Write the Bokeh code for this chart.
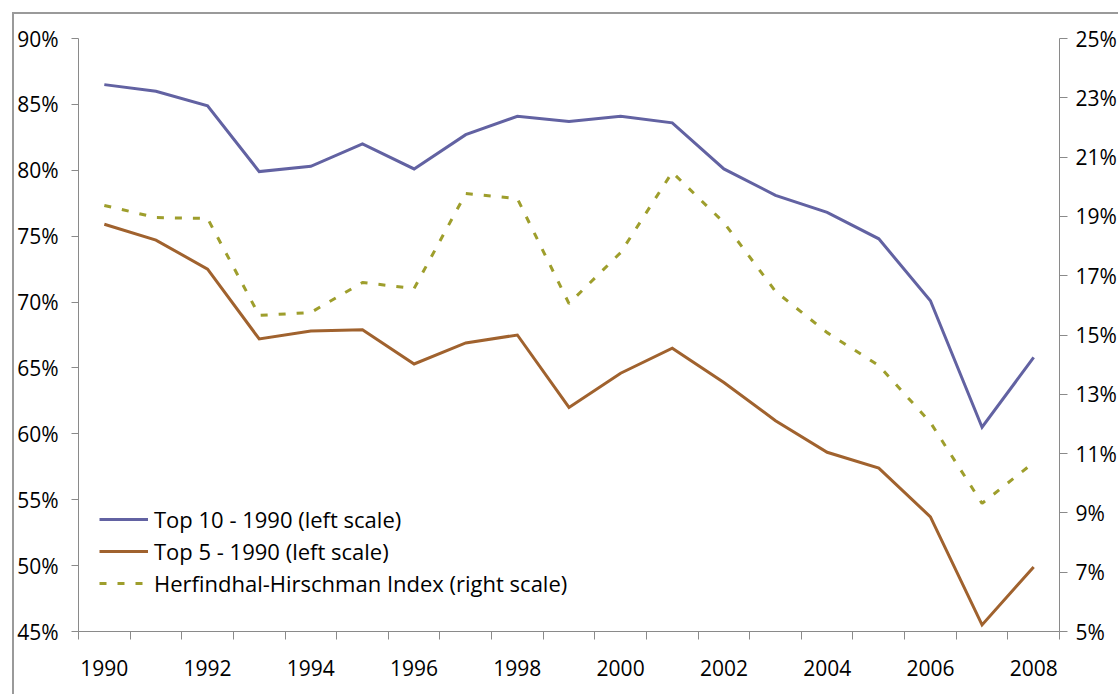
from bokeh.plotting import figure
from bokeh.models import (Range1d, LinearAxis, FixedTicker, PrintfTickFormatter,
                          Legend, LegendItem, BasicTickFormatter)
from bokeh.embed import file_html
from bokeh.resources import INLINE

# ---- data ----
years = list(range(1990, 2009))
top10 = [86.5, 86.0, 84.9, 79.9, 80.3, 82.0, 80.1, 82.7, 84.1, 83.7,
         84.1, 83.6, 80.1, 78.1, 76.8, 74.8, 70.1, 60.5, 65.8]
top5 = [75.9, 74.7, 72.5, 67.2, 67.8, 67.9, 65.3, 66.9, 67.5, 62.0,
        64.6, 66.5, 63.9, 61.0, 58.6, 57.4, 53.7, 45.5, 49.9]
hhi = [19.37, 18.96, 18.93, 15.66, 15.76, 16.77, 16.57, 19.77, 19.60, 16.06,
       17.78, 20.49, 18.79, 16.47, 15.08, 13.97, 12.05, 9.32, 10.7]
left_ticks = [45, 50, 55, 60, 65, 70, 75, 80, 85, 90]
right_ticks = [5, 7, 9, 11, 13, 15, 17, 19, 21, 23, 25]
x_label_years = [1990, 1992, 1994, 1996, 1998, 2000, 2002, 2004, 2006, 2008]
series_names = ["Top 10 - 1990 (left scale)", "Top 5 - 1990 (left scale)",
                "Herfindhal-Hirschman Index (right scale)"]

FONT = "Open Sans"
FS = "21px"
FS_LEG = "22px"
AXIS_COL = "#8a8a8a"
C_BLUE = "#6262a2"
C_BROWN = "#a0622e"
C_OLIVE = "#9e9e2c"

p = figure(width=1106, height=682, output_backend="svg", toolbar_location=None,
           x_range=Range1d(years[0] - 0.5, years[-1] + 0.5),
           y_range=Range1d(left_ticks[0], left_ticks[-1]),
           min_border_left=63, min_border_right=61, min_border_top=24,
           min_border_bottom=65)
p.extra_y_ranges = {"right": Range1d(right_ticks[0], right_ticks[-1])}
p.styles = {"margin-left": "12px", "margin-top": "12px",
            "border-left": "2px solid #9a9a9a", "border-top": "2px solid #9a9a9a"}
p.outline_line_color = None
p.xgrid.visible = False
p.ygrid.visible = False
p.background_fill_color = "white"
p.border_fill_color = "white"

# x axis
xa = p.xaxis[0]
xa.ticker = FixedTicker(ticks=x_label_years,
                        minor_ticks=[y - 0.5 for y in years] + [years[-1] + 0.5])
xa.formatter = BasicTickFormatter(use_scientific=False)
xa.major_tick_out = 0
xa.major_tick_in = 0
xa.minor_tick_out = 8
xa.minor_tick_in = 0
xa.minor_tick_line_color = AXIS_COL
xa.axis_line_color = AXIS_COL
xa.major_label_standoff = 20
xa.major_label_text_font = FONT
xa.major_label_text_font_size = FS
xa.major_label_text_color = "black"

# left axis
ya = p.yaxis[0]
ya.ticker = FixedTicker(ticks=left_ticks)
ya.formatter = PrintfTickFormatter(format="%d%%")
ya.major_tick_out = 7
ya.major_tick_in = 0
ya.minor_tick_out = 0
ya.minor_tick_in = 0
ya.axis_line_color = AXIS_COL
ya.major_tick_line_color = AXIS_COL
ya.major_label_standoff = 13
ya.major_label_text_font = FONT
ya.major_label_text_font_size = FS
ya.major_label_text_color = "black"

# right axis
ra = LinearAxis(y_range_name="right", ticker=FixedTicker(ticks=right_ticks),
                formatter=PrintfTickFormatter(format="%d%%"))
ra.major_tick_out = 8
ra.major_tick_in = 0
ra.minor_tick_out = 0
ra.minor_tick_in = 0
ra.axis_line_color = AXIS_COL
ra.major_tick_line_color = AXIS_COL
ra.major_label_standoff = 8
ra.major_label_text_font = FONT
ra.major_label_text_font_size = FS
ra.major_label_text_color = "black"
p.add_layout(ra, "right")

r1 = p.line(years, top10, line_color=C_BLUE, line_width=3, line_join="miter")
r2 = p.line(years, top5, line_color=C_BROWN, line_width=3, line_join="miter")
r3 = p.line(years, hhi, line_color=C_OLIVE, line_width=3, line_dash="7 11",
            y_range_name="right")

legend = Legend(items=[LegendItem(label=series_names[0], renderers=[r1]),
                       LegendItem(label=series_names[1], renderers=[r2]),
                       LegendItem(label=series_names[2], renderers=[r3])],
                location=(21, 33), padding=0, margin=0, spacing=2,
                glyph_width=49, glyph_height=26, label_height=26,
                label_standoff=6, border_line_color=None,
                background_fill_alpha=0,
                label_text_font=FONT, label_text_font_size=FS_LEG,
                label_text_color="black")
p.add_layout(legend, "center")

open("out.html", "w").write(file_html(p, INLINE))
